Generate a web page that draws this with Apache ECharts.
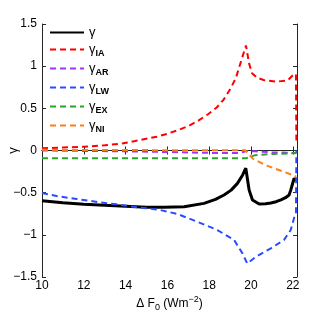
<!DOCTYPE html>
<html>
<head>
<meta charset="utf-8">
<script src="https://cdn.jsdelivr.net/npm/echarts@6/dist/echarts.min.js"></script>
<style>html,body{margin:0;padding:0;background:#fff}#c{width:328px;height:312px}</style>
</head>
<body>
<div id="c"></div>
<script>
// Data: [ΔF0, value]
var gammaTotal = [[10,-0.595],[11,-0.62],[12,-0.638],[13,-0.65],[14,-0.66],[15,-0.672],[15.84,-0.674],[16.8,-0.667],[17.75,-0.627],[18.3,-0.58],[18.71,-0.528],[19.05,-0.47],[19.35,-0.39],[19.6,-0.29],[19.75,-0.21],[19.83,-0.34],[19.91,-0.47],[20.07,-0.587],[20.39,-0.635],[20.7,-0.632],[20.95,-0.622],[21.2,-0.607],[21.43,-0.585],[21.65,-0.56],[21.82,-0.528],[21.9,-0.47],[21.98,-0.40],[22.06,-0.33],[22.17,-0.36]];
var gammaIA = [[10,0.026],[11,0.035],[12,0.045],[13,0.062],[13.89,0.085],[14.45,0.112],[14.93,0.136],[15.49,0.164],[15.97,0.196],[16.52,0.243],[17,0.29],[17.48,0.354],[17.96,0.433],[18.36,0.51],[18.68,0.6],[19,0.726],[19.27,0.856],[19.59,1.11],[19.76,1.245],[19.91,1.03],[20.05,0.915],[20.3,0.862],[20.6,0.836],[21.2,0.816],[21.75,0.83],[22.03,0.9],[22.15,0.907],[22.17,0.11]];
var gammaAR = [[10,0.0],[12,-0.005],[14,-0.01],[16,-0.018],[18,-0.028],[19.4,-0.03],[19.8,-0.005],[20.2,-0.01],[21,-0.02],[22,-0.03],[22.17,-0.03]];
var gammaLW = [[10,-0.505],[10.7,-0.54],[11.66,-0.575],[12.78,-0.615],[13.57,-0.638],[14.37,-0.667],[15.01,-0.686],[15.65,-0.705],[16.48,-0.753],[17.43,-0.845],[18.39,-0.943],[19.19,-1.06],[19.59,-1.22],[19.82,-1.34],[20.23,-1.26],[20.95,-1.16],[21.58,-1.06],[21.9,-0.943],[22.06,-0.8],[22.15,-0.75],[22.17,0.0]];
var gammaEX = [[10,-0.093],[12,-0.093],[14,-0.093],[16,-0.093],[18,-0.093],[19.75,-0.093],[20.2,-0.055],[21,-0.042],[22,-0.033],[22.17,-0.03]];
var gammaNI = [[10,0.008],[12,0.006],[14,0.005],[16,0.004],[18,0.003],[19.72,0.003],[20.1,-0.1],[20.76,-0.18],[21.55,-0.25],[22.17,-0.31]];

var xTicks = {min: 10, max: 22.2, interval: 2};
var yTicks = {min: -1.5, max: 1.5, interval: 0.5};

var names = ['γ', 'γIA', 'γAR', 'γLW', 'γEX', 'γNI'];
var colors = ['#000000', '#ff0000', '#a033ff', '#2a4bff', '#26a626', '#ff7f14'];
var datas = [gammaTotal, gammaIA, gammaAR, gammaLW, gammaEX, gammaNI];

var font = 'Liberation Sans, Arial, sans-serif';
var fmtNum = function (v) { return String(+v.toFixed(2)).replace('-', '\u2212'); };

var series = datas.map(function (d, i) {
  return {
    name: names[i], type: 'line', data: d, symbol: 'none', showSymbol: false, animation: false,
    xAxisIndex: 0, yAxisIndex: 0,
    lineStyle: i === 0 ? {color: colors[i], width: 3} : {color: colors[i], width: 2, type: [6, 4]},
    itemStyle: {color: colors[i]}
  };
});

var chart = echarts.init(document.getElementById('c'), null, {renderer: 'canvas'});
chart.setOption({
  backgroundColor: '#fff',
  animation: false,
  grid: {left: 42, top: 24, right: 31, bottom: 35, containLabel: false, outerBoundsMode: 'none'},
  legend: {
    orient: 'vertical', left: 49, top: 26, padding: 0, itemWidth: 34, itemHeight: 14, itemGap: 4,
    data: names,
    itemStyle: {opacity: 0},
    formatter: function (n) { return n === 'γ' ? '{g|γ}' : '{g|γ}{s|' + n.slice(1) + '}'; },
    textStyle: {
      fontFamily: font, color: '#000',
      rich: {
        g: {fontSize: 13, fontFamily: font, color: '#000'},
        s: {fontSize: 9, fontWeight: 'bold', fontFamily: font, color: '#000', padding: [8, 0, 0, 0]}
      }
    }
  },
  xAxis: [{
    type: 'value', min: xTicks.min, max: xTicks.max, interval: xTicks.interval, position: 'bottom',
    name: '{a|Δ F}{s|0}{a| (Wm}{p|\u22122}{a|)}', nameLocation: 'middle', nameGap: 18, nameMoveOverlap: false,
    nameTextStyle: {
      fontFamily: font, color: '#000',
      rich: {
        a: {fontSize: 12, fontFamily: font, color: '#000'},
        s: {fontSize: 9, fontFamily: font, color: '#000', padding: [8, 0, 0, 0]},
        p: {fontSize: 9, fontFamily: font, color: '#000', padding: [0, 0, 8, 0]}
      }
    },
    axisLine: {lineStyle: {color: '#262626', width: 1}},
    axisTick: {inside: true, length: 4, lineStyle: {color: '#262626'}},
    axisLabel: {fontFamily: font, fontSize: 12, color: '#000', margin: 3, showMaxLabel: false,
      formatter: function (v) { return Math.abs(v % 2) < 1e-9 ? fmtNum(v) : ''; }},
    splitLine: {show: false}
  }, {
    type: 'value', min: xTicks.min, max: xTicks.max, interval: xTicks.interval, position: 'top',
    axisLine: {lineStyle: {color: '#262626', width: 1}},
    axisTick: {inside: true, length: 4, lineStyle: {color: '#262626'}},
    axisLabel: {show: false}, splitLine: {show: false}
  }],
  yAxis: [{
    type: 'value', min: yTicks.min, max: yTicks.max, interval: yTicks.interval, position: 'left',
    name: 'γ', nameLocation: 'middle', nameGap: 22, nameRotate: 90, nameMoveOverlap: false,
    nameTextStyle: {fontFamily: font, fontSize: 13, color: '#000'},
    axisLine: {show: true, lineStyle: {color: '#262626', width: 1}},
    axisTick: {show: true, inside: true, length: 4, lineStyle: {color: '#262626'}},
    axisLabel: {fontFamily: font, fontSize: 12, color: '#000', margin: 5, formatter: fmtNum},
    splitLine: {show: false}
  }, {
    type: 'value', min: yTicks.min, max: yTicks.max, interval: yTicks.interval, position: 'right',
    axisLine: {show: true, lineStyle: {color: '#262626', width: 1}},
    axisTick: {show: true, inside: true, length: 4, lineStyle: {color: '#262626'}},
    axisLabel: {show: false}, splitLine: {show: false}
  }],
  series: series
});
</script>
</body>
</html>
